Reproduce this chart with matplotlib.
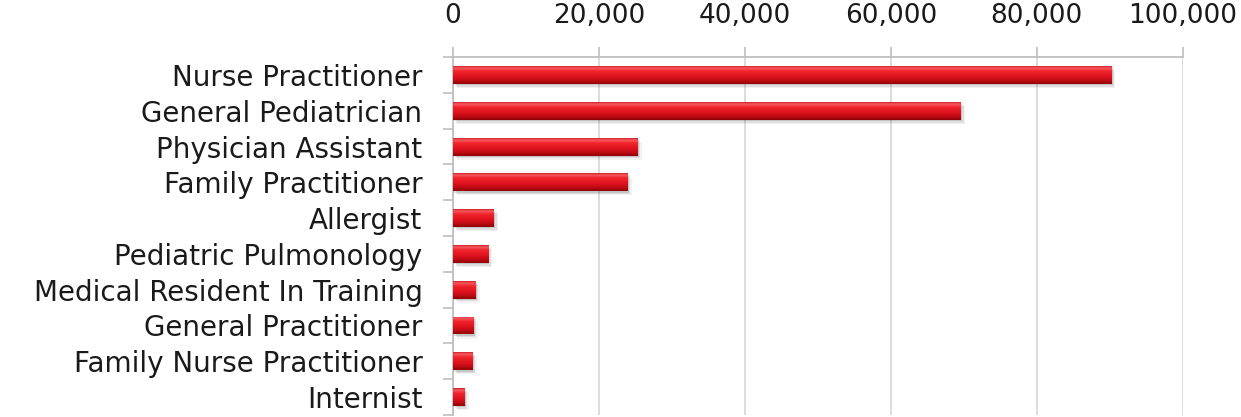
import numpy as np
import matplotlib
matplotlib.use("Agg")
import matplotlib.pyplot as plt
from matplotlib.colors import LinearSegmentedColormap
from matplotlib.patches import Rectangle
from matplotlib.ticker import FuncFormatter, FixedLocator
import matplotlib.transforms as mtransforms

# provider types and counts (top to bottom)
providers = ["Nurse Practitioner", "General Pediatrician", "Physician Assistant",
             "Family Practitioner", "Allergist", "Pediatric Pulmonology",
             "Medical Resident In Training", "General Practitioner",
             "Family Nurse Practitioner", "Internist"]
counts = [90200, 69600, 25300, 23900, 5600, 4800, 3100, 2800, 2700, 1600]
xticks = [0, 20000, 40000, 60000, 80000, 100000]

plt.rcParams['font.family'] = ['DejaVu Sans']

fig = plt.figure(figsize=(12.41, 4.17), dpi=100)
ax = fig.add_axes([0.365, 0.005, 0.588, 0.858])

ypos = np.arange(len(providers))
bar_h = 0.5

# red cylinder-ish shading, top to bottom
shade = LinearSegmentedColormap.from_list("redbar", [
    (0.00, "#cc1e26"), (0.10, "#f65a60"), (0.28, "#f0242c"),
    (0.60, "#dc121c"), (0.85, "#b60a12"), (1.00, "#900008")])
grad = np.linspace(0, 1, 64).reshape(-1, 1)

bars = ax.barh(ypos, counts, height=bar_h, color="#d81018", zorder=3)

for b in bars:
    x0, y0 = b.get_x(), b.get_y()
    w, h = b.get_width(), b.get_height()
    # soft drop shadow, a few layers offset down/right
    for k, a in zip([1.0, 2.0, 3.0], [0.18, 0.12, 0.07]):
        tr = mtransforms.offset_copy(ax.transData, fig=fig, x=k, y=-k, units='points')
        ax.add_patch(Rectangle((x0, y0), w, h, transform=tr, facecolor="#505050",
                               edgecolor="none", alpha=a, zorder=2))
    im = ax.imshow(grad, cmap=shade, aspect='auto', origin='upper',
                   extent=[x0, x0 + w, y0 + h, y0], zorder=4, interpolation='bilinear')
    im.set_clip_path(b)

ax.set_ylim(len(providers) - 0.5, -0.5)
ax.set_xlim(0, 100000)

ax.xaxis.tick_top()
ax.set_xticks(xticks)
ax.xaxis.set_major_formatter(FuncFormatter(lambda v, p: f"{int(v):,}"))
ax.tick_params(axis='x', which='major', length=7, width=1.2, color="#bfbfbf",
               labelsize=19, labelcolor="#1a1a1a", pad=13)
ax.grid(axis='x', color="#d9d9d9", linewidth=1.3, zorder=0)

ax.set_yticks(ypos)
ax.set_yticklabels(providers)
ax.yaxis.set_minor_locator(FixedLocator(np.arange(-0.5, len(providers), 1.0)))
ax.tick_params(axis='y', which='major', length=0, labelsize=20, labelcolor="#1a1a1a", pad=22)
ax.tick_params(axis='y', which='minor', length=7, width=1.2, color="#bfbfbf")

for side in ["right", "bottom"]:
    ax.spines[side].set_visible(False)
for side in ["top", "left"]:
    ax.spines[side].set_color("#bfbfbf")
    ax.spines[side].set_linewidth(1.3)

fig.savefig("out.png", dpi=100)
